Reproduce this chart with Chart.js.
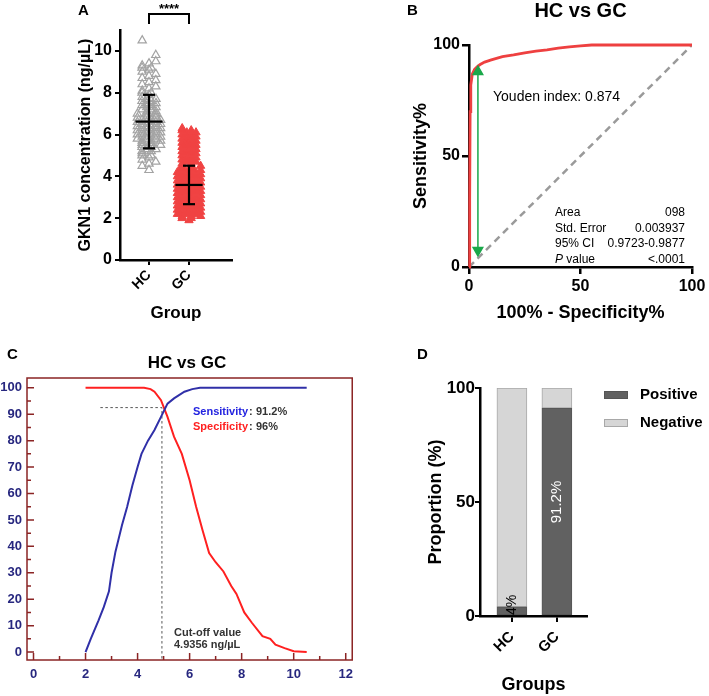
<!DOCTYPE html>
<html>
<head>
<meta charset="utf-8">
<script src="https://cdn.jsdelivr.net/npm/chart.js@4.4.1/dist/chart.umd.min.js"></script>
<style>
  body { margin: 0; background: #fff; }
  #fig { position: relative; width: 709px; height: 696px; overflow: hidden; background: #fff; }
  #fig canvas { position: absolute; }
</style>
</head>
<body>
<div id="fig">
  <canvas id="panelA" width="240" height="330" style="left:0;top:0"></canvas>
  <canvas id="panelB" width="329" height="330" style="left:380px;top:0"></canvas>
  <canvas id="panelC" width="360" height="356" style="left:0;top:340px"></canvas>
  <canvas id="panelD" width="329" height="356" style="left:380px;top:340px"></canvas>
</div>
<script>
// ---- panel A: GKN1 concentration per group ----
const groups = ["HC", "GC"];
const hcValues = [
  4.3, 4.5, 4.6, 4.7, 4.8, 4.9, 5.0, 5.0, 5.1, 5.2, 5.2, 5.3, 5.3, 5.4, 5.4, 5.5, 5.5, 5.5,
  5.6, 5.6, 5.7, 5.7, 5.7, 5.8, 5.8, 5.8, 5.9, 5.9, 5.9, 6.0, 6.0, 6.0, 6.1, 6.1, 6.1,
  6.2, 6.2, 6.2, 6.3, 6.3, 6.3, 6.4, 6.4, 6.4, 6.5, 6.5, 6.5, 6.6, 6.6, 6.6, 6.7, 6.7,
  6.7, 6.8, 6.8, 6.8, 6.9, 6.9, 7.0, 7.0, 7.0, 7.1, 7.1, 7.2, 7.2, 7.3, 7.3, 7.4, 7.4,
  7.5, 7.5, 7.6, 7.6, 7.7, 7.7, 7.8, 7.9, 8.0, 8.0, 8.1, 8.2, 8.3, 8.4, 8.5, 8.6, 8.7,
  8.8, 8.9, 9.0, 9.1, 9.2, 9.2, 9.3, 9.4, 9.5, 9.8, 10.5
];
const gcValues = [
  1.9, 2.0, 2.0, 2.1, 2.1, 2.1, 2.2, 2.2, 2.2, 2.3, 2.3, 2.3, 2.4, 2.4, 2.4, 2.5, 2.5, 2.5,
  2.6, 2.6, 2.6, 2.7, 2.7, 2.7, 2.8, 2.8, 2.8, 2.9, 2.9, 2.9, 3.0, 3.0, 3.0, 3.1, 3.1, 3.1,
  3.2, 3.2, 3.2, 3.3, 3.3, 3.3, 3.4, 3.4, 3.4, 3.5, 3.5, 3.5, 3.6, 3.6, 3.6, 3.7, 3.7, 3.7,
  3.8, 3.8, 3.8, 3.9, 3.9, 3.9, 4.0, 4.0, 4.0, 4.1, 4.1, 4.1, 4.2, 4.2, 4.2, 4.3, 4.3, 4.3,
  4.4, 4.4, 4.5, 4.5, 4.5, 4.6, 4.6, 4.7, 4.7, 4.8, 4.8, 4.9, 4.9, 5.0, 5.0, 5.1, 5.1, 5.2,
  5.2, 5.3, 5.3, 5.4, 5.4, 5.5, 5.5, 5.6, 5.6, 5.7, 5.7, 5.8, 5.8, 5.9, 5.9, 6.0, 6.0, 6.1,
  6.1, 6.2, 6.2, 6.3
];
const groupMeans = [6.62, 3.59];
const groupSD = [1.28, 0.92];

// ---- panel B: ROC ----
const rocFpr = [0, 0.3, 0.5, 0.8, 1.5, 2.5, 4, 5, 7, 10, 15, 20, 25, 30, 35, 40, 45, 50, 55, 100];
const rocTpr = [0, 30, 70, 82, 87, 89, 90.5, 91.2, 92.3, 93.3, 94.8, 95.5, 96.5, 97.2, 97.8, 98.6, 99.2, 99.6, 100, 100];
const youdenX = 4;
const youdenRange = [88, 7.5];
const statLabels = ["Area", "Std. Error", "95% CI", "P value"];
const statValues = ["098", "0.003937", "0.9723-0.9877", "<.0001"];

// ---- panel C: sensitivity / specificity vs cut-off ----
const sensX = [2.0, 2.2, 2.5, 2.7, 2.9, 3.0, 3.15, 3.4, 3.6, 3.8, 4.0, 4.15, 4.4, 4.65, 4.9, 5.15, 5.4, 5.8, 6.1, 6.4, 10.5];
const sensY = [0, 5, 12, 17, 23, 30, 38, 48, 55, 63, 70, 75, 80, 84, 89, 94, 96, 98.5, 99.5, 100, 100];
const specX = [2.0, 4.25, 4.5, 4.65, 4.9, 5.15, 5.4, 5.7, 6.0, 6.25, 6.5, 6.75, 7.0, 7.3, 7.6, 7.8, 8.1, 8.4, 8.8, 9.1, 9.3, 9.65, 10.0, 10.5];
const specY = [100, 100, 99.5, 98.5, 95.3, 89, 81.5, 75, 65, 55, 46, 37.5, 34, 30.5, 25, 22, 15, 11, 6, 5, 2.8, 1.5, 0.3, 0];
const cutoff = 4.9356;
const cutoffLevel = 92.5;
const guideStart = 2.57;

// ---- panel D: proportion positive ----
const positivePct = [4, 91.2];
const negativePct = [96, 8.8];

const FONT = "'Liberation Sans', Arial, sans-serif";
Chart.defaults.font.family = FONT;
Chart.defaults.color = "#000";
Chart.defaults.animation = false;
Chart.defaults.plugins.legend.display = false;
Chart.defaults.plugins.tooltip.enabled = false;

function letter(ctx, t, x, y) {
  ctx.save();
  ctx.font = "bold 15px " + FONT;
  ctx.fillStyle = "#000";
  ctx.textBaseline = "middle";
  ctx.fillText(t, x, y);
  ctx.restore();
}

// beeswarm-like spread of points that share a value
function swarm(values, center) {
  const bins = {};
  values.forEach(v => { const k = Math.round(v * 10); bins[k] = (bins[k] || 0) + 1; });
  const seen = {};
  return values.map(v => {
    const k = Math.round(v * 10);
    const n = bins[k];
    const i = seen[k] || 0;
    seen[k] = i + 1;
    let off;
    if (n === 1) off = ((k % 3) - 1) * 0.17;
    else off = (i - (n - 1) / 2) * 0.23 + (k % 2 ? 0.06 : -0.06);
    return { x: center + off, y: v };
  });
}

function errorBars(g) {
  const c = g + 1, m = groupMeans[g], s = groupSD[g];
  const seg = d => ({ type: "line", data: d, showLine: true, borderColor: "#000", borderWidth: 2.2, pointRadius: 0, clip: false });
  return [
    seg([{ x: c, y: m - s }, { x: c, y: m + s }]),
    seg([{ x: c - 0.34, y: m }, { x: c + 0.34, y: m }]),
    seg([{ x: c - 0.15, y: m + s }, { x: c + 0.15, y: m + s }]),
    seg([{ x: c - 0.15, y: m - s }, { x: c + 0.15, y: m - s }])
  ];
}

// ===== Panel A =====
new Chart(document.getElementById("panelA"), {
  type: "scatter",
  data: {
    datasets: [
      ...errorBars(0), ...errorBars(1),
      { data: swarm(hcValues, 1), pointStyle: "triangle", pointRadius: 4.8, backgroundColor: "rgba(255,255,255,0)",
        borderColor: "#a3a3a3", borderWidth: 1.2, clip: false },
      { data: swarm(gcValues, 2), pointStyle: "triangle", pointRadius: 4.8, backgroundColor: "#f04343",
        borderColor: "#f04343", borderWidth: 1, clip: false }
    ]
  },
  options: {
    responsive: false,
    layout: { padding: { left: 72, right: 8, top: 30, bottom: 0 } },
    scales: {
      x: {
        type: "linear", min: 0.275, max: 3.075,
        afterBuildTicks: s => { s.ticks = [{ value: 1 }, { value: 2 }]; },
        afterFit: s => { s.height = 70; },
        ticks: { callback: v => groups[v - 1], minRotation: 45, maxRotation: 45, padding: 2, font: { size: 14, weight: "bold" } },
        grid: { display: true, drawOnChartArea: false, tickLength: 5, color: "#000", lineWidth: 2 },
        border: { color: "#000", width: 2.5 },
        title: { display: true, text: "Group", font: { size: 17, weight: "bold" }, padding: { top: 0, bottom: 6 } }
      },
      y: {
        min: 0, max: 11,
        afterFit: s => { s.width = 48; },
        ticks: { stepSize: 2, includeBounds: false, padding: 3, font: { size: 16, weight: "bold" } },
        grid: { display: true, drawOnChartArea: false, tickLength: 5, color: "#000", lineWidth: 2 },
        border: { color: "#000", width: 2.5 },
        title: { display: true, text: "GKN1 concentration (ng/µL)", font: { size: 16, weight: "bold" }, padding: { top: 4, bottom: 0 } }
      }
    }
  },
  plugins: [{
    id: "annA",
    afterDraw(chart) {
      const ctx = chart.ctx, x = chart.scales.x;
      letter(ctx, "A", 78, 11);
      const x1 = x.getPixelForValue(1), x2 = x.getPixelForValue(2);
      ctx.save();
      ctx.strokeStyle = "#000";
      ctx.fillStyle = "#000";
      ctx.lineWidth = 2;
      ctx.beginPath();
      ctx.moveTo(x1, 24); ctx.lineTo(x1, 14); ctx.lineTo(x2, 14); ctx.lineTo(x2, 24);
      ctx.stroke();
      ctx.font = "bold 13px " + FONT;
      ctx.textAlign = "center";
      ctx.textBaseline = "middle";
      ctx.fillText("****", (x1 + x2) / 2, 9);
      ctx.restore();
    }
  }]
});

// ===== Panel B =====
new Chart(document.getElementById("panelB"), {
  type: "scatter",
  data: {
    datasets: [
      { data: [{ x: youdenX, y: youdenRange[0] }, { x: youdenX, y: youdenRange[1] }], showLine: true,
        borderColor: "#1aa84a", backgroundColor: "#1aa84a", borderWidth: 1.5,
        pointStyle: "triangle", pointRadius: 5.5, rotation: [0, 180], clip: false },
      { data: rocFpr.map((v, i) => ({ x: v, y: rocTpr[i] })), showLine: true, borderColor: "#ee4040",
        borderWidth: 2.8, pointRadius: 0, clip: false },
      { data: [{ x: 0, y: 0 }, { x: 100, y: 100 }], showLine: true, borderColor: "#9a9a9a", borderWidth: 2.5,
        borderDash: [7, 5], pointRadius: 0 }
    ]
  },
  options: {
    responsive: false,
    layout: { padding: { left: 26, right: 17, top: 45, bottom: 0 } },
    scales: {
      x: {
        type: "linear", min: 0, max: 100,
        afterFit: s => { s.height = 63; },
        ticks: { stepSize: 50, padding: 3, font: { size: 16, weight: "bold" } },
        grid: { display: true, drawOnChartArea: false, tickLength: 7, color: "#000", lineWidth: 2.5 },
        border: { color: "#000", width: 2.5 },
        title: { display: true, text: "100% - Specificity%", font: { size: 18, weight: "bold" }, padding: { top: 0, bottom: 6 } }
      },
      y: {
        min: 0, max: 100,
        afterFit: s => { s.width = 63; },
        ticks: { stepSize: 50, padding: 2, font: { size: 16, weight: "bold" } },
        grid: { display: true, drawOnChartArea: false, tickLength: 7, color: "#000", lineWidth: 2.5 },
        border: { color: "#000", width: 2.5 },
        title: { display: true, text: "Sensitivity%", font: { size: 18, weight: "bold" }, padding: { top: 4, bottom: 0 } }
      }
    }
  },
  plugins: [{
    id: "annB",
    afterDraw(chart) {
      const ctx = chart.ctx, a = chart.chartArea;
      letter(ctx, "B", 27, 11);
      ctx.save();
      ctx.fillStyle = "#000";
      ctx.textBaseline = "middle";
      ctx.font = "bold 20px " + FONT;
      ctx.textAlign = "center";
      ctx.fillText("HC vs GC", (a.left + a.right) / 2, 11);
      ctx.font = "14px " + FONT;
      ctx.textAlign = "left";
      ctx.fillText("Youden index: 0.874", 113, 97);
      ctx.font = "12px " + FONT;
      statLabels.forEach((lab, i) => {
        const y = 213 + i * 15.5;
        ctx.textAlign = "left";
        if (lab.startsWith("P ")) {
          ctx.font = "italic 12px " + FONT;
          ctx.fillText("P", 175, y);
          const w = ctx.measureText("P").width;
          ctx.font = "12px " + FONT;
          ctx.fillText(lab.slice(1), 175 + w, y);
        } else {
          ctx.fillText(lab, 175, y);
        }
        ctx.textAlign = "right";
        ctx.fillText(statValues[i], 305, y);
      });
      ctx.restore();
    }
  }]
});

// ===== Panel C =====
const navy = "#27277f";
new Chart(document.getElementById("panelC"), {
  type: "scatter",
  data: {
    datasets: [
      { data: sensX.map((v, i) => ({ x: v, y: sensY[i] })), showLine: true, borderColor: "#3030a8", borderWidth: 2, pointRadius: 0 },
      { data: specX.map((v, i) => ({ x: v, y: specY[i] })), showLine: true, borderColor: "#ff2020", borderWidth: 2, pointRadius: 0 },
      { data: [{ x: guideStart, y: cutoffLevel }, { x: cutoff, y: cutoffLevel }, { x: cutoff, y: -3 }], showLine: true,
        borderColor: "#555", borderWidth: 1, borderDash: [2.5, 2.5], pointRadius: 0 }
    ]
  },
  options: {
    responsive: false,
    layout: { padding: { left: 0, right: 2, top: 38, bottom: 0 } },
    scales: {
      x: {
        type: "linear", min: -0.25, max: 12.25,
        afterFit: s => { s.height = 36; },
        ticks: { stepSize: 2, includeBounds: false, padding: 7, color: navy, font: { size: 13, weight: "bold" } },
        grid: { display: false, drawTicks: false }, border: { display: false }
      },
      y: {
        min: -3, max: 103.7,
        afterFit: s => { s.width = 27; },
        ticks: { stepSize: 10, includeBounds: false, padding: 5, color: navy, font: { size: 13, weight: "bold" } },
        grid: { display: false, drawTicks: false }, border: { display: false }
      }
    }
  },
  plugins: [{
    id: "annC",
    afterDraw(chart) {
      const ctx = chart.ctx, a = chart.chartArea, sx = chart.scales.x, sy = chart.scales.y;
      letter(ctx, "C", 7, 15);
      ctx.save();
      ctx.strokeStyle = "#8b2424";
      ctx.lineWidth = 1.5;
      ctx.strokeRect(a.left, a.top, a.right - a.left, a.bottom - a.top);
      ctx.beginPath();
      sx.ticks.forEach(t => {
        [t.value, t.value + 1].forEach((v, j) => {
          if (v > sx.max) return;
          const px = sx.getPixelForValue(v);
          ctx.moveTo(px, a.bottom); ctx.lineTo(px, a.bottom - (j ? 4 : 7));
        });
      });
      sy.ticks.forEach(t => {
        [t.value, t.value + 5].forEach((v, j) => {
          if (v > 100) return;
          const py = sy.getPixelForValue(v);
          ctx.moveTo(a.left, py); ctx.lineTo(a.left + (j ? 4 : 7), py);
        });
      });
      ctx.stroke();
      ctx.fillStyle = "#000";
      ctx.textBaseline = "middle";
      ctx.textAlign = "center";
      ctx.font = "bold 17px " + FONT;
      ctx.fillText("HC vs GC", 187, 23);
      ctx.textAlign = "left";
      ctx.font = "bold 11px " + FONT;
      const row = (label, col, val, x, y) => {
        ctx.fillStyle = col; ctx.fillText(label, x, y);
        let w = ctx.measureText(label).width;
        ctx.fillStyle = "#333"; ctx.fillText(":", x + w + 1, y);
        ctx.fillText(val, 256, y);
      };
      row("Sensitivity", "#2323e0", "91.2%", 193, 72);
      row("Specificity", "#ff2020", "96%", 193, 87);
      ctx.fillStyle = "#333";
      ctx.fillText("Cut-off value", 174, 293);
      ctx.fillText("4.9356 ng/µL", 174, 305);
      ctx.restore();
    }
  }]
});

// ===== Panel D =====
new Chart(document.getElementById("panelD"), {
  type: "bar",
  data: {
    datasets: [
      { label: "Positive", data: positivePct.map((v, i) => ({ x: i + 1, y: v })), backgroundColor: "#616161",
        borderColor: "#555", borderWidth: 1, borderSkipped: false, barThickness: 30 },
      { label: "Negative", data: negativePct.map((v, i) => ({ x: i + 1, y: v })), backgroundColor: "#d6d6d6",
        borderColor: "#a8a8a8", borderWidth: 1, borderSkipped: false, barThickness: 30 }
    ]
  },
  options: {
    responsive: false,
    layout: { padding: { left: 41, right: 122, top: 48, bottom: 0 } },
    scales: {
      x: {
        type: "linear", min: 0.29, max: 2.67, stacked: true, offset: false,
        afterBuildTicks: s => { s.ticks = [{ value: 1 }, { value: 2 }]; },
        afterFit: s => { s.height = 80; },
        ticks: { callback: v => groups[v - 1], minRotation: 45, maxRotation: 45, padding: 6, font: { size: 15, weight: "bold" } },
        grid: { display: true, offset: false, drawOnChartArea: false, tickLength: 6, color: "#000", lineWidth: 2 },
        border: { color: "#000", width: 2.5 },
        title: { display: true, text: "Groups", font: { size: 18, weight: "bold" }, padding: { top: 0, bottom: 0 } }
      },
      y: {
        min: 0, max: 100, stacked: true,
        afterFit: s => { s.width = 59; },
        ticks: { stepSize: 50, padding: 0, font: { size: 17, weight: "bold" } },
        grid: { display: true, drawOnChartArea: false, tickLength: 5, color: "#000", lineWidth: 2 },
        border: { color: "#000", width: 2.5 },
        title: { display: true, text: "Proportion (%)", font: { size: 18, weight: "bold" }, padding: { top: 4, bottom: 0 } }
      }
    }
  },
  plugins: [{
    id: "annD",
    afterDraw(chart) {
      const ctx = chart.ctx, sy = chart.scales.y;
      letter(ctx, "D", 37, 15);
      ctx.save();
      // labels on the positive bars
      const meta = chart.getDatasetMeta(0);
      meta.data.forEach((bar, i) => {
        const v = positivePct[i];
        const txt = v + "%";
        ctx.save();
        ctx.textAlign = "center";
        ctx.textBaseline = "middle";
        let y;
        if (v > 50) {
          ctx.font = "15px " + FONT;
          ctx.fillStyle = "#fff";
          y = sy.getPixelForValue(50);
        } else {
          ctx.font = "14px " + FONT;
          ctx.fillStyle = "#000";
          y = bar.base - ctx.measureText(txt).width / 2;
        }
        ctx.translate(bar.x, y);
        ctx.rotate(-Math.PI / 2);
        ctx.fillText(txt, 0, 0);
        ctx.restore();
      });
      // legend
      ctx.font = "bold 15px " + FONT;
      ctx.textBaseline = "middle";
      chart.data.datasets.forEach((ds, i) => {
        const y = 55 + i * 28;
        ctx.fillStyle = ds.backgroundColor;
        ctx.strokeStyle = ds.borderColor;
        ctx.lineWidth = 1;
        ctx.fillRect(224, y - 3.5, 23, 7);
        ctx.strokeRect(224.5, y - 3.5, 23, 7);
        ctx.fillStyle = "#000";
        ctx.fillText(ds.label, 260, y);
      });
      ctx.restore();
    }
  }]
});
</script>
</body>
</html>
